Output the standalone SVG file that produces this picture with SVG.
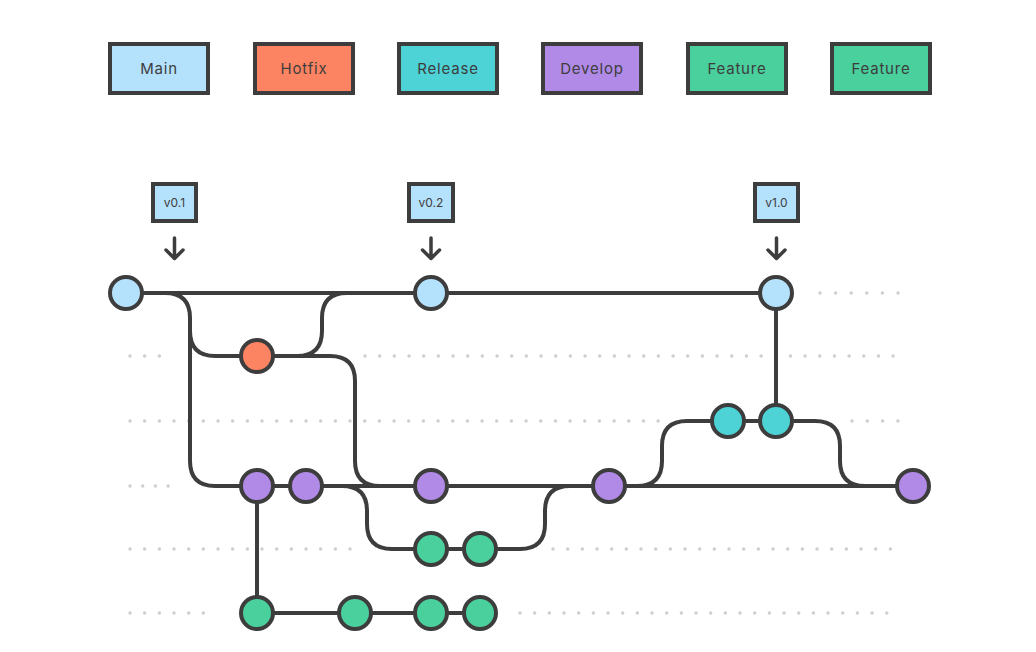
<svg xmlns="http://www.w3.org/2000/svg" width="1036" height="652" viewBox="0 0 1036 652">
<style>
.box{stroke:#3d3d3d;stroke-width:4;}
.lbl{font-family:Inter,"Open Sans",sans-serif;font-size:15px;fill:#3d3d3d;text-anchor:middle;letter-spacing:0.8px;}
.tag{font-family:Inter,"Open Sans",sans-serif;font-size:12px;fill:#3d3d3d;text-anchor:middle;}
.c{stroke:#3d3d3d;stroke-width:4;}
.ln{fill:none;stroke:#3d3d3d;stroke-width:4;}
.arr{fill:none;stroke:#3d3d3d;stroke-width:3.5;stroke-linecap:round;stroke-linejoin:round;}
.dot{fill:none;stroke:#cfcfcf;stroke-width:3.5;stroke-linecap:round;stroke-dasharray:0 14.67;}
.main{fill:#b4e1fc;}
.hot{fill:#fd8462;}
.rel{fill:#4dd2d6;}
.dev{fill:#b18ae8;}
.feat{fill:#4ad09d;}
</style>
<rect width="1036" height="652" fill="#ffffff"/>
<g id="dots">
<line class="dot" x1="820" y1="293" x2="900" y2="293" style="stroke-dasharray:0 15.6"/>
<line class="dot" x1="130" y1="356" x2="161" y2="356"/>
<line class="dot" x1="365" y1="356" x2="900" y2="356"/>
<line class="dot" x1="130" y1="421" x2="660" y2="421"/>
<line class="dot" x1="852" y1="421" x2="900" y2="421" style="stroke-dasharray:0 15.3"/>
<line class="dot" x1="130" y1="486" x2="169" y2="486" style="stroke-dasharray:0 12.7"/>
<line class="dot" x1="130" y1="549" x2="361" y2="549"/>
<line class="dot" x1="553" y1="549" x2="900" y2="549"/>
<line class="dot" x1="130" y1="613" x2="218" y2="613"/>
<line class="dot" x1="520" y1="613" x2="900" y2="613"/>
</g>
<g id="legend-main"><rect class="box main" x="110" y="44" width="98" height="49"/><text class="lbl" x="159" y="74">Main</text></g>
<g id="legend-hotfix"><rect class="box hot" x="255" y="44" width="98" height="49"/><text class="lbl" x="304" y="74">Hotfix</text></g>
<g id="legend-release"><rect class="box rel" x="399" y="44" width="98" height="49"/><text class="lbl" x="448" y="74">Release</text></g>
<g id="legend-develop"><rect class="box dev" x="543" y="44" width="98" height="49"/><text class="lbl" x="592" y="74">Develop</text></g>
<g id="legend-feature1"><rect class="box feat" x="688" y="44" width="98" height="49"/><text class="lbl" x="737" y="74">Feature</text></g>
<g id="legend-feature2"><rect class="box feat" x="832" y="44" width="98" height="49"/><text class="lbl" x="881" y="74">Feature</text></g>
<g id="tag-v01"><rect class="box main" x="153" y="184" width="43" height="37"/><text class="tag" x="174.5" y="207">v0.1</text><path class="arr" d="M174.5 238 V258 M166 250 L174.5 258.5 L183 250"/></g>
<g id="tag-v02"><rect class="box main" x="409" y="184" width="44" height="37"/><text class="tag" x="431" y="207">v0.2</text><path class="arr" d="M431 238 V258 M422.5 250 L431 258.5 L439.5 250"/></g>
<g id="tag-v10"><rect class="box main" x="755" y="184" width="43" height="37"/><text class="tag" x="776.5" y="207">v1.0</text><path class="arr" d="M776.5 238 V258 M768 250 L776.5 258.5 L785 250"/></g>
<g id="connectors">
<path class="ln" d="M126 293 H776"/>
<path class="ln" d="M143 293 H165 Q190 293 190 318 V331 Q190 356 215 356 H257"/>
<path class="ln" d="M190 318 V461 Q190 486 215 486 H257"/>
<path class="ln" d="M257 356 H297 Q322 356 322 331 V318 Q322 293 347 293"/>
<path class="ln" d="M257 356 H330 Q355 356 355 381 V461 Q355 486 380 486"/>
<path class="ln" d="M257 486 H913"/>
<path class="ln" d="M306 486 H342 Q367 486 367 511 V524 Q367 549 392 549 H480"/>
<path class="ln" d="M480 549 H520 Q545 549 545 524 V511 Q545 486 570 486"/>
<path class="ln" d="M609 486 H637 Q662 486 662 461 V446 Q662 421 687 421 H776"/>
<path class="ln" d="M776 421 H815 Q840 421 840 446 V461 Q840 486 865 486"/>
<path class="ln" d="M776 293 V421"/>
<path class="ln" d="M257 486 V613 H480"/>
</g>
<g id="c-main1"><circle class="c main" cx="126" cy="293" r="16"/></g>
<g id="c-main2"><circle class="c main" cx="431" cy="293" r="16"/></g>
<g id="c-main3"><circle class="c main" cx="776" cy="293" r="16"/></g>
<g id="c-hot1"><circle class="c hot" cx="257" cy="356" r="16"/></g>
<g id="c-rel1"><circle class="c rel" cx="728" cy="421" r="16"/></g>
<g id="c-rel2"><circle class="c rel" cx="776" cy="421" r="16"/></g>
<g id="c-dev1"><circle class="c dev" cx="257" cy="486" r="16"/></g>
<g id="c-dev2"><circle class="c dev" cx="306" cy="486" r="16"/></g>
<g id="c-dev3"><circle class="c dev" cx="431" cy="486" r="16"/></g>
<g id="c-dev4"><circle class="c dev" cx="609" cy="486" r="16"/></g>
<g id="c-dev5"><circle class="c dev" cx="913" cy="486" r="16"/></g>
<g id="c-f1a"><circle class="c feat" cx="431" cy="549" r="16"/></g>
<g id="c-f1b"><circle class="c feat" cx="480" cy="549" r="16"/></g>
<g id="c-f2a"><circle class="c feat" cx="257" cy="613" r="16"/></g>
<g id="c-f2b"><circle class="c feat" cx="355" cy="613" r="16"/></g>
<g id="c-f2c"><circle class="c feat" cx="431" cy="613" r="16"/></g>
<g id="c-f2d"><circle class="c feat" cx="480" cy="613" r="16"/></g>
</svg>
